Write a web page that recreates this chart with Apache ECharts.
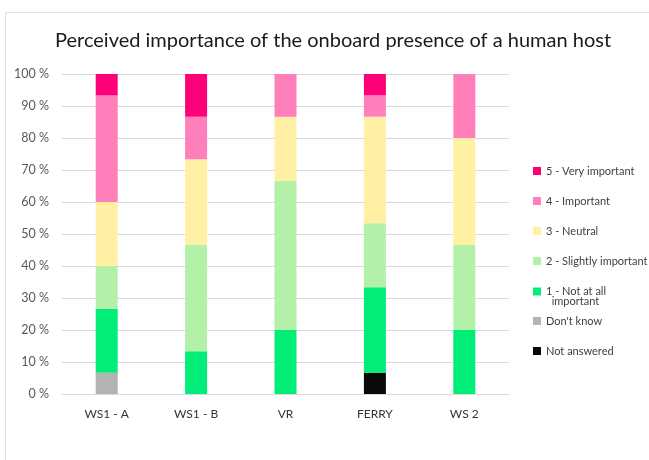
<!DOCTYPE html>
<html>
<head>
<meta charset="utf-8">
<script src="https://cdn.jsdelivr.net/npm/echarts@6/dist/echarts.min.js"></script>
<style>html,body{margin:0;padding:0;background:#fff}#c{width:649px;height:460px}</style>
</head>
<body>
<div id="c"></div>
<script>
const categories = ['WS1 - A', 'WS1 - B', 'VR', 'FERRY', 'WS 2'];
const yTicks = [0, 10, 20, 30, 40, 50, 60, 70, 80, 90, 100];
// percentages (n = 15 per group)
const notAnswered   = [0,    0,    0,    6.67, 0];
const dontKnow      = [6.67, 0,    0,    0,    0];
const notAtAll      = [20,   13.33, 20,  26.67, 20];
const slightly      = [13.33, 33.33, 46.67, 20, 26.67];
const neutral       = [20,   26.67, 20,  33.33, 33.33];
const important     = [33.33, 13.33, 13.33, 6.67, 20];
const veryImportant = [6.67, 13.33, 0,   6.67, 0];

const seriesDefs = [
  { name: 'Not answered', data: notAnswered, color: '#0a0a0a', legendY: 351 },
  { name: "Don't know", data: dontKnow, color: '#b3b3b3', legendY: 321 },
  { name: '1 - Not at all\n  important', data: notAtAll, color: '#00ee78', legendY: 291 },
  { name: '2 - Slightly important', data: slightly, color: '#b3f0a8', legendY: 261 },
  { name: '3 - Neutral', data: neutral, color: '#fff0a3', legendY: 231 },
  { name: '4 - Important', data: important, color: '#ff7fba', legendY: 201 },
  { name: '5 - Very important', data: veryImportant, color: '#ff0078', legendY: 171 }
];

const chart = echarts.init(document.getElementById('c'), null, { renderer: 'canvas' });
const fontFam = 'Lato, "Open Sans", sans-serif';

const legends = seriesDefs.map(s => {
  const twoLine = s.name.indexOf('\n') >= 0;
  return {
    orient: 'vertical',
    left: 533,
    top: twoLine ? s.legendY - 15 : s.legendY - 7,
    itemWidth: 8,
    itemHeight: 8,
    icon: 'rect',
    padding: 0,
    data: [s.name],
    formatter: twoLine ? (n => '\n' + n) : undefined,
    textStyle: { color: '#404040', fontSize: 11, fontFamily: fontFam, lineHeight: twoLine ? 10 : 14 },
    selectedMode: false
  };
});

chart.setOption({
  animation: false,
  title: {
    text: 'Perceived importance of the onboard presence of a human host',
    left: 50,
    top: 26,
    textStyle: { fontSize: 20, fontWeight: 'normal', color: '#1a1a1a', fontFamily: fontFam }
  },
  graphic: [{
    type: 'rect', silent: true,
    shape: { x: 5.5, y: 12.5, width: 700, height: 500 },
    style: { fill: 'none', stroke: '#e2e2e2', lineWidth: 1 }
  }],
  legend: legends,
  grid: { left: 62, right: 140, top: 74, bottom: 66 },
  xAxis: {
    type: 'category',
    data: categories,
    axisLine: { lineStyle: { color: '#d9d9d9' } },
    axisTick: { show: false },
    axisLabel: { color: '#333', fontSize: 12, fontFamily: fontFam, margin: 14 }
  },
  yAxis: {
    type: 'value',
    min: yTicks[0],
    max: yTicks[yTicks.length - 1],
    interval: 10,
    axisLine: { show: false },
    axisTick: { show: false },
    splitLine: { lineStyle: { color: '#d9d9d9' } },
    axisLabel: { color: '#595959', fontSize: 12.5, fontFamily: fontFam, margin: 13, formatter: '{value} %' }
  },
  series: seriesDefs.map(s => ({
    name: s.name,
    type: 'bar',
    stack: 'total',
    barWidth: 22,
    data: s.data,
    itemStyle: { color: s.color },
    emphasis: { disabled: true }
  }))
});
</script>
</body>
</html>
